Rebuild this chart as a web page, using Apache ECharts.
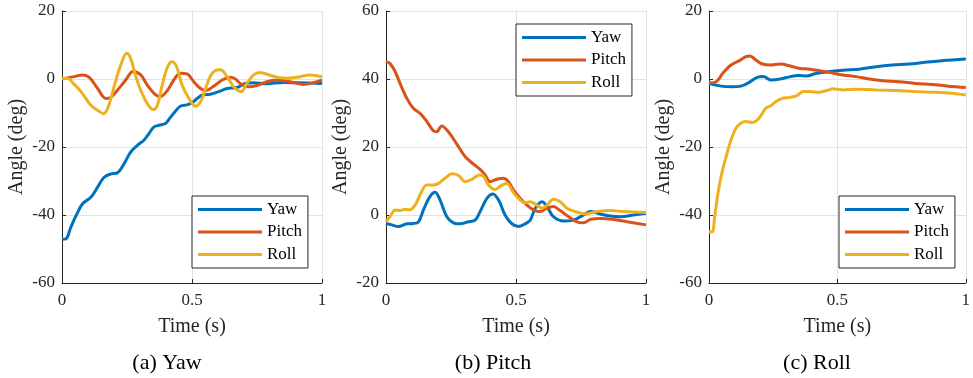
<!DOCTYPE html>
<html>
<head>
<meta charset="utf-8">
<script src="https://cdn.jsdelivr.net/npm/echarts@6/dist/echarts.min.js"></script>
<style>
  html, body { margin: 0; padding: 0; background: #fff; }
  #chart { width: 973px; height: 378px; }
</style>
</head>
<body>
<div id="chart"></div>
<script>
// (a) Yaw
const aYaw = [[0, -47.1], [0.015, -47.0], [0.034, -43.6], [0.054, -40.2], [0.079, -36.7], [0.111, -34.8], [0.137, -31.8], [0.162, -28.9], [0.188, -27.9], [0.213, -27.6], [0.239, -24.9], [0.264, -21.5], [0.29, -19.5], [0.315, -18.0], [0.334, -16.1], [0.354, -14.1], [0.373, -13.6], [0.398, -13.1], [0.417, -11.3], [0.437, -9.4], [0.455, -8.0], [0.481, -7.6], [0.5, -7.0], [0.52, -5.7], [0.539, -4.7], [0.57, -4.5], [0.603, -3.7], [0.635, -2.8], [0.673, -2.5], [0.705, -1.3], [0.737, -1.1], [0.788, -1.4], [0.852, -1.0], [0.916, -1.1], [1, -1.3]]
const aPitch = [[0, 0], [0.047, 0.7], [0.079, 1.2], [0.105, 0.5], [0.137, -2.8], [0.169, -5.7], [0.188, -5.4], [0.213, -3.3], [0.245, -0.3], [0.273, 2.2], [0.303, 1.2], [0.328, -1.8], [0.354, -4.2], [0.377, -5.2], [0.405, -3.4], [0.43, -0.3], [0.455, 1.7], [0.481, 1.5], [0.507, -0.8], [0.533, -2.8], [0.552, -3.4], [0.584, -2.1], [0.616, -0.3], [0.648, 0.5], [0.667, 0], [0.686, -1.3], [0.718, -2.3], [0.75, -1.9], [0.788, -0.8], [0.826, -0.4], [0.877, -0.8], [0.929, -1.6], [0.967, -1.1], [1, -0.3]]
const aRoll = [[0, 0.2], [0.028, 0], [0.041, -1.1], [0.073, -3.7], [0.111, -7.7], [0.143, -9.5], [0.16, -10.2], [0.178, -8.2], [0.2, -2.3], [0.226, 4.1], [0.249, 7.6], [0.264, 6.1], [0.284, 0.7], [0.303, -3.3], [0.328, -7.2], [0.351, -9.0], [0.367, -7.7], [0.39, -0.3], [0.409, 4.1], [0.424, 5.1], [0.441, 3.6], [0.462, -1.8], [0.488, -5.7], [0.513, -8.0], [0.533, -6.7], [0.552, -2.8], [0.571, 0.9], [0.59, 2.5], [0.609, 2.7], [0.635, 0.7], [0.66, -2.3], [0.689, -3.7], [0.711, -1.3], [0.737, 1.2], [0.762, 1.9], [0.788, 1.4], [0.826, 0.5], [0.865, 0.2], [0.903, 0.5], [0.954, 1.2], [1, 0.7]]

// (b) Pitch
const bYaw = [[0, -2.5], [0.022, -2.9], [0.047, -3.4], [0.08, -2.6], [0.105, -2.5], [0.125, -2.0], [0.144, 1.5], [0.169, 5.4], [0.189, 6.7], [0.208, 4.4], [0.234, -0.5], [0.259, -2.3], [0.285, -2.6], [0.317, -2.0], [0.343, -1.5], [0.362, 1.0], [0.388, 4.9], [0.411, 6.2], [0.433, 4.4], [0.458, 0], [0.483, -2.5], [0.51, -3.4], [0.535, -2.6], [0.555, -1.5], [0.574, 2.0], [0.6, 3.9], [0.619, 2.5], [0.644, -0.5], [0.683, -1.8], [0.721, -1.5], [0.76, 0], [0.786, 1.0], [0.824, 0.3], [0.863, -0.3], [0.901, -0.5], [0.952, 0], [1, 0.5]]
const bPitch = [[0, 45.1], [0.015, 44.6], [0.035, 42.2], [0.054, 38.7], [0.08, 34.3], [0.105, 31.4], [0.131, 29.9], [0.157, 27.5], [0.182, 24.8], [0.195, 24.5], [0.214, 26.2], [0.24, 24.5], [0.272, 20.9], [0.304, 17.2], [0.336, 15.0], [0.362, 13.4], [0.381, 11.8], [0.4, 9.8], [0.426, 10.5], [0.452, 10.8], [0.471, 9.8], [0.49, 7.4], [0.516, 4.9], [0.542, 2.9], [0.567, 1.5], [0.593, 1.0], [0.619, 2.0], [0.644, 2.5], [0.67, 1.3], [0.702, -0.5], [0.734, -2.0], [0.76, -2.3], [0.786, -1.3], [0.824, -1.0], [0.876, -1.3], [0.927, -2.0], [1, -2.9]]
const bRoll = [[0, -2.0], [0.015, -0.5], [0.035, 1.5], [0.054, 1.3], [0.073, 1.7], [0.09, 1.5], [0.112, 2.9], [0.137, 6.9], [0.157, 8.8], [0.182, 8.8], [0.202, 9.3], [0.227, 10.8], [0.253, 12.1], [0.279, 11.6], [0.304, 9.8], [0.33, 10.5], [0.36, 11.8], [0.375, 11.5], [0.394, 8.8], [0.42, 7.5], [0.445, 8.8], [0.465, 9.3], [0.49, 6.6], [0.516, 4.4], [0.535, 3.6], [0.555, 3.9], [0.58, 2.9], [0.6, 2.0], [0.619, 2.9], [0.644, 4.6], [0.67, 3.9], [0.696, 2.0], [0.728, 1.0], [0.766, 0.3], [0.811, 1.0], [0.863, 1.3], [0.914, 1.0], [1, 0.7]]

// (c) Roll
const cYaw = [[0, -1.3], [0.047, -2.1], [0.092, -2.3], [0.124, -2.1], [0.15, -1.3], [0.188, 0.5], [0.212, 0.7], [0.24, -0.3], [0.278, 0], [0.317, 0.7], [0.349, 1.0], [0.381, 0.9], [0.419, 1.7], [0.47, 2.2], [0.522, 2.6], [0.586, 2.9], [0.65, 3.6], [0.714, 4.1], [0.778, 4.4], [0.842, 4.9], [0.906, 5.4], [1, 5.9]]
const cPitch = [[0, -1.1], [0.028, -0.8], [0.054, 1.7], [0.086, 4.1], [0.118, 5.4], [0.144, 6.6], [0.16, 6.8], [0.182, 5.6], [0.208, 4.4], [0.24, 4.1], [0.278, 4.4], [0.317, 3.8], [0.355, 3.1], [0.394, 2.9], [0.432, 2.4], [0.47, 1.9], [0.522, 1.2], [0.573, 0.7], [0.624, 0], [0.676, -0.5], [0.74, -0.8], [0.804, -1.3], [0.868, -1.6], [0.932, -2.1], [1, -2.5]]
const cRoll = [[0, -44.9], [0.013, -44.9], [0.022, -40.5], [0.035, -33.6], [0.05, -27.7], [0.067, -22.8], [0.086, -17.9], [0.105, -14.5], [0.124, -13.0], [0.144, -12.5], [0.169, -12.8], [0.188, -12.1], [0.208, -10.1], [0.221, -8.6], [0.24, -7.9], [0.259, -6.7], [0.285, -5.7], [0.317, -5.4], [0.342, -4.9], [0.368, -3.7], [0.394, -3.7], [0.426, -3.9], [0.458, -3.4], [0.483, -2.9], [0.522, -3.2], [0.573, -3.0], [0.65, -3.2], [0.727, -3.4], [0.804, -3.7], [0.881, -3.9], [0.945, -4.2], [1, -4.7]]

const names = ['Yaw', 'Pitch', 'Roll']
const colors = ['#0072BD', '#D95319', '#EDB120']
const panels = [[aYaw, aPitch, aRoll], [bYaw, bPitch, bRoll], [cYaw, cPitch, cRoll]]
const yRanges = [[-60, 20], [-20, 60], [-60, 20]]
const captions = ['(a) Yaw', '(b) Pitch', '(c) Roll']

const font = 'Liberation Serif, Times New Roman, serif'
const axisColor = '#262626'
const gridLefts = [62, 386, 709]
const captionX = [167, 493, 817]
const legendPos = [[192, 196], [516, 24], [839, 196]]

const chart = echarts.init(document.getElementById('chart'), null, { renderer: 'canvas' })

const option = {
  animation: false,
  backgroundColor: '#fff',
  grid: gridLefts.map(l => ({ left: l, top: 11, width: 260, height: 272 })),
  xAxis: gridLefts.map((l, i) => ({
    type: 'value',
    gridIndex: i,
    min: 0,
    max: 1,
    interval: 0.5,
    name: 'Time (s)',
    nameLocation: 'middle',
    nameGap: 34,
    nameTextStyle: { fontFamily: font, fontSize: 20, color: axisColor },
    axisLine: { show: true, onZero: false, lineStyle: { color: axisColor, width: 1 } },
    axisTick: { show: true, inside: true, length: 4, lineStyle: { color: axisColor } },
    axisLabel: { fontFamily: font, fontSize: 17, color: axisColor, margin: 9 },
    splitLine: { show: true, lineStyle: { color: '#e2e2e2', width: 1 } }
  })),
  yAxis: yRanges.map((r, i) => ({
    type: 'value',
    gridIndex: i,
    min: r[0],
    max: r[1],
    interval: 20,
    name: 'Angle (deg)',
    nameLocation: 'middle',
    nameGap: 35,
    nameTextStyle: { fontFamily: font, fontSize: 20, color: axisColor },
    axisLine: { show: true, onZero: false, lineStyle: { color: axisColor, width: 1 } },
    axisTick: { show: true, inside: true, length: 4, lineStyle: { color: axisColor } },
    axisLabel: { fontFamily: font, fontSize: 17, color: axisColor, margin: 7 },
    splitLine: { show: true, lineStyle: { color: '#e2e2e2', width: 1 } }
  })),
  // 图例：长线段，无标记点
  legend: legendPos.map(p => ({
    orient: 'vertical',
    left: p[0],
    top: p[1],
    data: names,
    selectedMode: false,
    icon: 'rect',
    itemWidth: 64,
    itemHeight: 3,
    itemGap: 5.5,
    padding: [5, 6, 5, 6],
    borderColor: axisColor,
    borderWidth: 1,
    backgroundColor: '#fff',
    textStyle: { fontFamily: font, fontSize: 17, color: '#000', lineHeight: 17 }
  })),
  series: [],
  graphic: captions.map((c, i) => ({
    type: 'text',
    style: {
      text: c,
      x: captionX[i],
      y: 363,
      align: 'center',
      verticalAlign: 'middle',
      fontFamily: font,
      fontSize: 22,
      fill: '#000'
    }
  }))
}

// 每个子图三条曲线
panels.forEach((set, i) => {
  set.forEach((data, k) => {
    option.series.push({
      name: names[k],
      type: 'line',
      xAxisIndex: i,
      yAxisIndex: i,
      data: data,
      symbol: 'none',
      showSymbol: false,
      smooth: 0.35,
      color: colors[k],
      lineStyle: { width: 3, color: colors[k] }
    })
  })
})

chart.setOption(option)
</script>
</body>
</html>
